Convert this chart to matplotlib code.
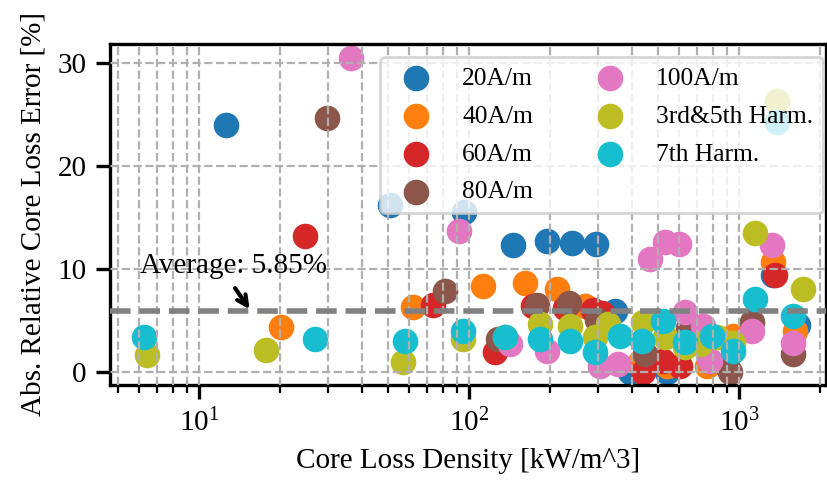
import matplotlib
matplotlib.use("Agg")
import matplotlib.pyplot as plt

plt.rcParams['font.family'] = ['Liberation Serif', 'DejaVu Serif']
plt.rcParams['mathtext.fontset'] = 'stix'
plt.rcParams['font.size'] = 10.5

labels = ["20A/m", "40A/m", "60A/m", "80A/m", "100A/m", "3rd&5th Harm.", "7th Harm."]
colors = ["#1f77b4", "#ff7f0e", "#d62728", "#8c564b", "#e377c2", "#bcbd22", "#17becf"]

x_20 = [12.6, 51, 96, 146, 194, 240, 295, 347, 395, 540, 1336, 1650]
y_20 = [23.9, 16.2, 15.5, 12.3, 12.7, 12.5, 12.4, 5.9, 0.0, 0.0, 9.4, 4.5]

x_40 = [20.1, 62, 113, 161, 212, 270, 430, 541, 761, 950, 1336, 1611]
y_40 = [4.3, 6.3, 8.3, 8.6, 8.0, 6.4, 0.9, 0.5, 0.5, 3.45, 10.6, 3.9]

x_60 = [24.7, 73.6, 125, 173, 227, 288, 311, 441, 524, 604, 781, 900, 1359]
y_60 = [13.2, 6.5, 1.9, 6.35, 6.2, 6.0, 5.7, 0.0, 1.0, 0.5, 1.0, 0.5, 9.4]

x_80 = [29.8, 81.5, 128, 179, 234, 298, 450, 650, 927, 1118, 1585]
y_80 = [24.6, 7.8, 3.2, 6.5, 6.7, 5.0, 1.7, 4.2, 0.0, 4.8, 1.7]

x_100 = [36.6, 92, 468, 532, 600, 142, 194.5, 305, 357, 631, 736, 781, 1325, 1118, 1585]
y_100 = [30.4, 13.6, 10.9, 12.6, 12.4, 2.7, 2.0, 0.55, 0.75, 5.75, 4.4, 1.0, 12.3, 3.9, 2.8]

x_h35 = [6.4, 17.7, 57, 95, 136, 183, 237, 293, 327, 441, 532, 631, 717, 830, 950, 1145, 1726, 1380]
y_h35 = [1.6, 2.1, 0.9, 3.2, 3.4, 4.6, 4.4, 3.35, 4.6, 4.8, 3.4, 2.4, 2.7, 3.4, 2.8, 13.5, 8.0, 26.3]

x_h7 = [6.25, 26.9, 58, 95, 136, 183, 237, 293, 362, 437, 524, 631, 795, 950, 1145, 1585, 1383]
y_h7 = [3.4, 3.2, 3.0, 3.95, 3.35, 3.2, 3.0, 1.9, 3.45, 3.0, 4.9, 2.85, 3.45, 2.0, 7.0, 5.4, 24.2]

average = 5.85

series_x = [x_20, x_40, x_60, x_80, x_100, x_h35, x_h7]
series_y = [y_20, y_40, y_60, y_80, y_100, y_h35, y_h7]

W, H = 827, 493
fig = plt.figure(figsize=(W / 200, H / 200), dpi=200)
ax = fig.add_axes([110 / W, 1 - 385 / H, (826 - 110) / W, (385 - 44) / H])

for xs, ys, c, lab in zip(series_x, series_y, colors, labels):
    ax.scatter(xs, ys, s=85, color=c, linewidths=0, label=lab, zorder=1)

ax.axhline(average, color='gray', ls='--', lw=2, zorder=3)

ax.set_xscale('log')
ax.set_xlim(4.68, 2100)
ax.set_ylim(-1.3, 31.8)
ax.set_yticks([0, 10, 20, 30])

ax.set_axisbelow(False)
ax.grid(True, which='major', axis='both', ls='--', color='#b0b0b0', lw=0.8)
ax.grid(True, which='minor', axis='x', ls='--', color='#b0b0b0', lw=0.8)

for sp in ax.spines.values():
    sp.set_linewidth(1.2)
ax.tick_params(which='major', direction='out', length=5, width=1.2)
ax.tick_params(which='minor', direction='out', length=3, width=0.8)

ax.set_xlabel('Core Loss Density [kW/m^3]')
ax.set_ylabel('Abs. Relative Core Loss Error [%]')

ax.text(6.04, 9.6, 'Average: %.2f%%' % average, ha='left', va='baseline')
ax.annotate('', xy=(15.4, 6.05), xytext=(13.6, 8.1),
            arrowprops=dict(arrowstyle='->', lw=1.5, color='black',
                            shrinkA=0, shrinkB=0, mutation_scale=9))

leg = ax.legend(ncol=2, loc='upper right',
                bbox_to_anchor=((823 - 110) / 716, (385 - 57) / 341),
                borderaxespad=0, framealpha=0.8, fontsize=9.2,
                labelspacing=0.58, borderpad=0.4)

fig.savefig('out.png', dpi=200)
